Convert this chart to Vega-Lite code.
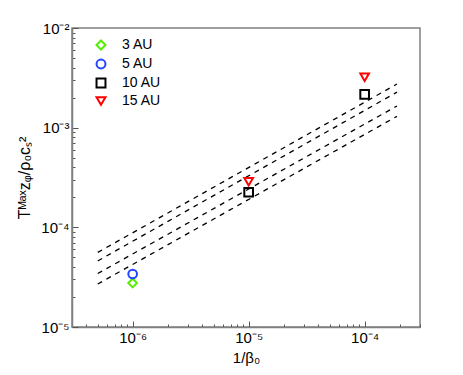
{
  "$schema": "https://vega.github.io/schema/vega-lite/v6.json",
  "width": 348,
  "height": 299,
  "autosize": "none",
  "padding": {"left": 72, "top": 28, "right": 43, "bottom": 48},
  "background": "white",
  "config": {
    "font": "Liberation Sans",
    "view": {"stroke": "#808080", "strokeWidth": 1.5},
    "axis": {
      "grid": false,
      "domainColor": "#808080",
      "domainWidth": 1.5,
      "labelColor": "black",
      "labelFont": "Liberation Sans",
      "labelFontSize": 15,
      "titleFont": "Liberation Sans",
      "titleFontSize": 15,
      "titleFontWeight": "normal",
      "titleColor": "black",
      "labelOverlap": false,
      "labelFlush": false
    }
  },
  "datasets": {
    "pts": [
      {"beta": 1e-6, "T": 2.76e-5, "AU": "3 AU"},
      {"beta": 1e-6, "T": 3.4e-5, "AU": "5 AU"},
      {"beta": 1e-5, "T": 2.25e-4, "AU": "10 AU"},
      {"beta": 1e-4, "T": 2.16e-3, "AU": "10 AU"},
      {"beta": 1e-5, "T": 2.86e-4, "AU": "15 AU"},
      {"beta": 1e-4, "T": 3.2e-3, "AU": "15 AU"}
    ],
    "fits": [
      {"line": "a", "beta": 5e-7, "T": 5.6e-5},
      {"line": "a", "beta": 1.9e-4, "T": 2.74e-3},
      {"line": "b", "beta": 5e-7, "T": 4.6e-5},
      {"line": "b", "beta": 1.9e-4, "T": 2.27e-3},
      {"line": "c", "beta": 5e-7, "T": 3.44e-5},
      {"line": "c", "beta": 1.9e-4, "T": 1.65e-3},
      {"line": "d", "beta": 5e-7, "T": 2.7e-5},
      {"line": "d", "beta": 1.9e-4, "T": 1.3e-3}
    ]
  },
  "layer": [
    {
      "data": {"name": "fits"},
      "mark": {"type": "line", "color": "black", "strokeWidth": 1.3, "strokeDash": [5, 5]},
      "encoding": {
        "detail": {"field": "line"},
        "x": {
          "field": "beta", "type": "quantitative",
          "scale": {"type": "log", "domain": [3e-7, 3e-4], "nice": false},
          "axis": {
            "orient": "bottom",
            "title": "1/β₀",
            "titlePadding": 2,
            "ticks": true,
            "tickColor": "#555555",
            "tickWidth": 1,
            "tickSize": {"condition": {"test": "abs(log(datum.value)/LN10 - round(log(datum.value)/LN10)) < 0.001", "value": -6}, "value": -3},
            "values": [3e-7,4e-7,5e-7,6e-7,7e-7,8e-7,9e-7,1e-6,2e-6,3e-6,4e-6,5e-6,6e-6,7e-6,8e-6,9e-6,1e-5,2e-5,3e-5,4e-5,5e-5,6e-5,7e-5,8e-5,9e-5,1e-4,2e-4,3e-4],
            "labelExpr": "abs(datum.value-1e-6)<1e-9 ? '10⁻⁶' : abs(datum.value-1e-5)<1e-8 ? '10⁻⁵' : abs(datum.value-1e-4)<1e-7 ? '10⁻⁴' : ''",
            "labelPadding": 9
          }
        },
        "y": {
          "field": "T", "type": "quantitative",
          "scale": {"type": "log", "domain": [1e-5, 1e-2], "nice": false},
          "axis": {
            "orient": "left",
            "title": "Tᴹᵃˣzᵩ/ρ₀cₛ²",
            "titlePadding": 8,
            "titleFontSize": 16,
            "ticks": true,
            "tickColor": "#555555",
            "tickWidth": 1,
            "tickSize": {"condition": {"test": "abs(log(datum.value)/LN10 - round(log(datum.value)/LN10)) < 0.001", "value": -6}, "value": -3},
            "values": [1e-5,2e-5,3e-5,4e-5,5e-5,6e-5,7e-5,8e-5,9e-5,1e-4,2e-4,3e-4,4e-4,5e-4,6e-4,7e-4,8e-4,9e-4,1e-3,2e-3,3e-3,4e-3,5e-3,6e-3,7e-3,8e-3,9e-3,1e-2],
            "labelExpr": "abs(datum.value-1e-5)<1e-8 ? '10⁻⁵' : abs(datum.value-1e-4)<1e-7 ? '10⁻⁴' : abs(datum.value-1e-3)<1e-6 ? '10⁻³' : abs(datum.value-1e-2)<1e-5 ? '10⁻²' : ''",
            "labelPadding": 9
          }
        }
      }
    },
    {
      "data": {"name": "pts"},
      "mark": {"type": "point", "filled": false, "strokeWidth": 2, "size": 75, "opacity": 1},
      "encoding": {
        "x": {"field": "beta", "type": "quantitative"},
        "y": {"field": "T", "type": "quantitative"},
        "color": {
          "field": "AU", "type": "nominal",
          "scale": {"domain": ["3 AU", "5 AU", "10 AU", "15 AU"], "range": ["#55ee00", "#2244ff", "#000000", "#ff0000"]},
          "legend": {
            "orient": "none", "legendX": 22, "legendY": 10, "title": null,
            "labelFontSize": 14, "labelFont": "Liberation Sans", "labelColor": "black",
            "symbolStrokeWidth": 2, "symbolSize": 80, "rowPadding": 1, "labelOffset": 14
          }
        },
        "shape": {
          "field": "AU", "type": "nominal",
          "scale": {"domain": ["3 AU", "5 AU", "10 AU", "15 AU"], "range": ["diamond", "circle", "square", "triangle-down"]},
          "legend": {
            "orient": "none", "legendX": 22, "legendY": 10, "title": null,
            "labelFontSize": 14, "labelFont": "Liberation Sans", "labelColor": "black",
            "symbolStrokeWidth": 2, "symbolSize": 80, "rowPadding": 1, "labelOffset": 14
          }
        }
      }
    }
  ]
}
